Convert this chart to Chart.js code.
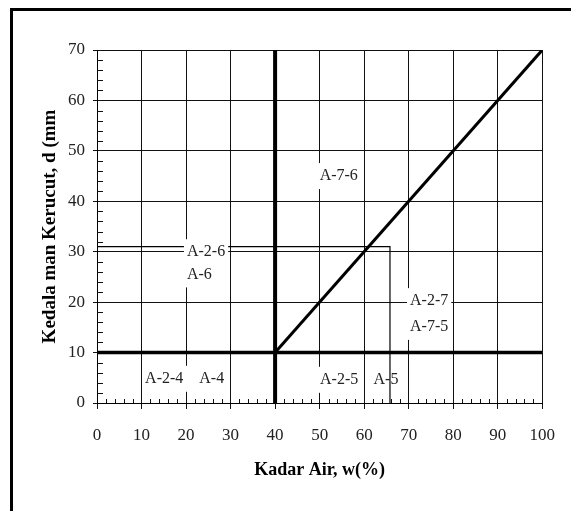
<!DOCTYPE html>
<html>
<head>
<meta charset="utf-8">
<script src="https://cdn.jsdelivr.net/npm/chart.js@4.4.1/dist/chart.umd.min.js"></script>
<style>
  body { margin: 0; background: #fff; }
  #wrap { position: relative; width: 571px; height: 511px; overflow: hidden; }
  #frame { position: absolute; left: 10px; top: 8px; width: 600px; height: 600px;
           border-top: 3px solid #000; border-left: 3px solid #000; pointer-events: none; }
</style>
</head>
<body>
<div id="wrap">
  <canvas id="chart"></canvas>
  <div id="frame"></div>
</div>
<script>
// axis ranges
const xMin = 0, xMax = 100, xStep = 10;
const yMin = 0, yMax = 70, yStep = 10;
const minorStep = 2;

// boundary lines
const dividerX = [40, 40];
const dividerY = [0, 70];
const baseX = [0, 100];
const baseY = [10, 10];
const slopeX = [40, 100];
const slopeY = [10, 70];
const boundX = [0, 65.8, 65.8];
const boundY = [31, 31, 0];

// zone labels (left edge x, middle y, in data units)
const zoneText = ['A-7-6', 'A-2-6', 'A-6', 'A-2-4    A-4', 'A-2-5', 'A-5', 'A-2-7', 'A-7-5'];
const zoneX = [50, 20.2, 20.2, 10.8, 50.1, 62.1, 70.3, 70.3];
const zoneY = [45, 29.9, 25.5, 4.8, 4.6, 4.6, 20.2, 15.1];
const zoneMasked = [true, true, true, true, true, false, true, true];

Chart.defaults.font.family = '"Liberation Serif", "Times New Roman", serif';
Chart.defaults.color = '#111';

function toPoints(xs, ys) {
    return xs.map((v, i) => ({ x: v, y: ys[i] }));
}

const minorTicks = {
    id: 'minorTicks',
    afterDraw(chart) {
        const { ctx, scales: { x, y } } = chart;
        ctx.save();
        ctx.strokeStyle = '#111';
        ctx.lineWidth = 1;
        ctx.beginPath();
        for (let v = xMin; v <= xMax; v += minorStep) {
            if (v % xStep === 0) continue;
            const px = Math.round(x.getPixelForValue(v)) + 0.5;
            ctx.moveTo(px, y.bottom);
            ctx.lineTo(px, y.bottom - 4);
        }
        for (let v = yMin; v <= yMax; v += minorStep) {
            if (v % yStep === 0) continue;
            const py = Math.round(y.getPixelForValue(v)) + 0.5;
            ctx.moveTo(x.left, py);
            ctx.lineTo(x.left + 6, py);
        }
        ctx.stroke();
        ctx.restore();
    }
};

const zoneLabels = {
    id: 'zoneLabels',
    afterDatasetsDraw(chart) {
        const { ctx, scales: { x, y } } = chart;
        ctx.save();
        ctx.font = '16px "Liberation Serif", serif';
        ctx.textBaseline = 'middle';
        ctx.textAlign = 'left';
        zoneText.forEach((t, i) => {
            const px = x.getPixelForValue(zoneX[i]);
            const py = y.getPixelForValue(zoneY[i]);
            const w = ctx.measureText(t).width;
            if (zoneMasked[i]) {
                ctx.fillStyle = '#fff';
                ctx.fillRect(px - 3, py - 13, w + 6, 26);
            }
            ctx.fillStyle = '#222';
            ctx.fillText(t, px, py);
        });
        ctx.restore();
    }
};

new Chart(document.getElementById('chart'), {
    type: 'scatter',
    data: {
        datasets: [
            { data: toPoints(boundX, boundY), borderWidth: 1.2 },
            { data: toPoints(baseX, baseY), borderWidth: 3.5 },
            { data: toPoints(dividerX, dividerY), borderWidth: 4 },
            { data: toPoints(slopeX, slopeY), borderWidth: 3 }
        ].map(d => Object.assign(d, { showLine: true, borderColor: '#000', pointRadius: 0, fill: false }))
    },
    options: {
        responsive: true,
        maintainAspectRatio: false,
        animation: false,
        layout: { padding: { left: 39, top: 50, right: 28, bottom: 30 } },
        plugins: {
            legend: { display: false },
            tooltip: { enabled: false }
        },
        scales: {
            x: {
                type: 'linear',
                min: xMin,
                max: xMax,
                ticks: { stepSize: xStep, padding: 16, color: '#222', font: { size: 17 } },
                grid: { color: '#111', lineWidth: 1, tickLength: 6, tickColor: '#111' },
                border: { color: '#000', width: 1 },
                title: {
                    display: true,
                    text: 'Kadar Air, w(%)',
                    color: '#000',
                    padding: 0,
                    font: { size: 18, weight: 'bold' }
                },
                afterFit: s => { s.height = 78; }
            },
            y: {
                type: 'linear',
                min: yMin,
                max: yMax,
                ticks: { stepSize: yStep, padding: 8, color: '#222', font: { size: 17 } },
                grid: { color: '#111', lineWidth: 1, tickLength: 4, tickColor: '#111' },
                border: { color: '#000', width: 1 },
                title: {
                    display: true,
                    text: 'Kedala man Kerucut, d (mm',
                    color: '#000',
                    padding: 0,
                    font: { size: 19, weight: 'bold' }
                },
                afterFit: s => { s.width = 58; }
            }
        }
    },
    plugins: [minorTicks, zoneLabels]
});
</script>
</body>
</html>
